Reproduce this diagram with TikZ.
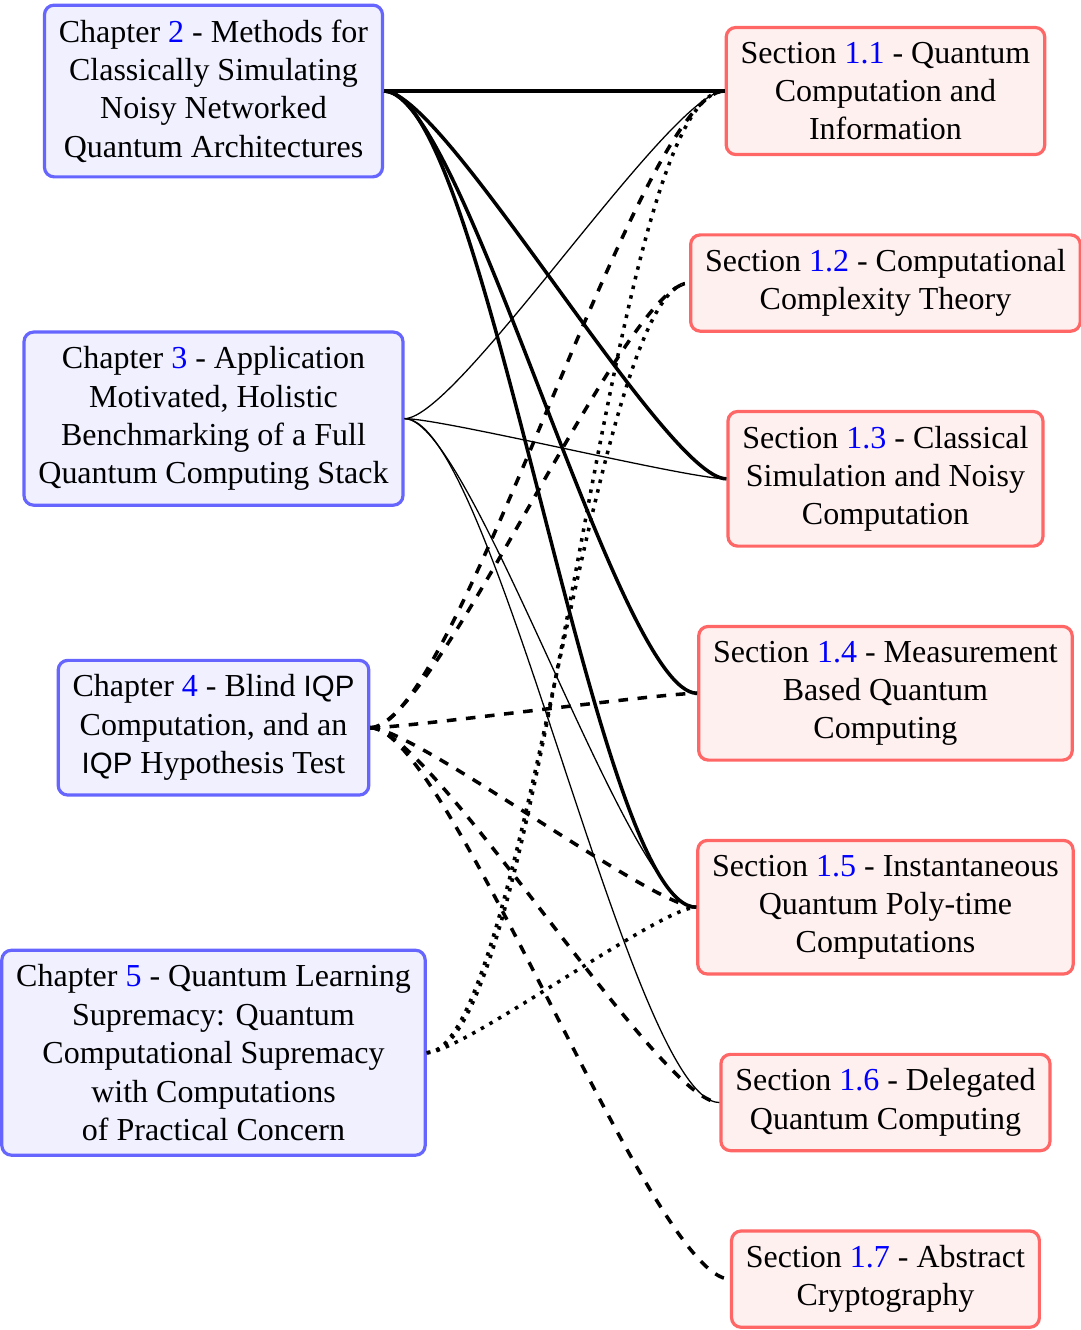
\documentclass[tikz,border=0pt]{standalone}
\usepackage{fontspec}
\setmainfont{Liberation Serif}
\setsansfont{Liberation Sans}[Scale=0.92]
\usetikzlibrary{positioning}
\newcommand{\refnum}[1]{\textcolor{blue}{#1}}

\begin{document}
\begin{tikzpicture}[
  chapterbox/.style={draw=blue!60, fill=blue!6, line width=1pt, rounded corners=3pt, align=center, inner sep=4.5pt},
  sectionbox/.style={draw=red!60, fill=red!6, line width=1pt, rounded corners=3pt, align=center, inner sep=4.5pt},
  hookcurve/.style={out=0, in=180, looseness=0.3},
  linktwo/.style={line width=1.1pt},
  linkthree/.style={thin},
  linkfour/.style={line width=1.1pt, dashed},
  linkfive/.style={line width=1.1pt, dotted}]
\useasboundingbox (-66.72pt,28.44pt) rectangle (271.1pt,-387.2pt);
% Chapters on the left
\node[chapterbox] (ch2) at (0,0) {Chapter \refnum{2} - Methods for\\Classically Simulating\\Noisy Networked\\Quantum Architectures};
\node[chapterbox, below=47.5pt of ch2] (ch3) {Chapter \refnum{3} - Application\\Motivated, Holistic\\Benchmarking of a Full\\Quantum Computing Stack};
\node[chapterbox, below=47.5pt of ch3] (ch4) {Chapter \refnum{4} - Blind \textsf{IQP}\\Computation, and an\\\textsf{IQP} Hypothesis Test};
\node[chapterbox, below=47.5pt of ch4] (ch5) {Chapter \refnum{5} - Quantum Learning\\Supremacy: Quantum\\Computational Supremacy\\with Computations\\of Practical Concern};

% Sections on the right
\node[sectionbox] (s11) at (210pt,0) {Section \refnum{1.1} - Quantum\\Computation and\\Information};
\node[sectionbox, below=24.1pt of s11] (s12) {Section \refnum{1.2} - Computational\\Complexity Theory};
\node[sectionbox, below=24.1pt of s12] (s13) {Section \refnum{1.3} - Classical\\Simulation and Noisy\\Computation};
\node[sectionbox, below=24.1pt of s13] (s14) {Section \refnum{1.4} - Measurement\\Based Quantum\\Computing};
\node[sectionbox, below=24.1pt of s14] (s15) {Section \refnum{1.5} - Instantaneous\\Quantum Poly-time\\Computations};
\node[sectionbox, below=24.1pt of s15] (s16) {Section \refnum{1.6} - Delegated\\Quantum Computing};
\node[sectionbox, below=24.1pt of s16] (s17) {Section \refnum{1.7} - Abstract\\Cryptography};

% Dependencies
\foreach \s in {s11,s13,s14,s15}
  \draw[linktwo] (ch2.east) to[hookcurve] (\s.west);
\foreach \s in {s11,s13,s15,s16}
  \draw[linkthree] (ch3.east) to[hookcurve] (\s.west);
\foreach \s in {s11,s12,s14,s15,s16,s17}
  \draw[linkfour] (ch4.east) to[hookcurve] (\s.west);
\foreach \s in {s11,s12,s15}
  \draw[linkfive] (ch5.east) to[hookcurve] (\s.west);
\end{tikzpicture}
\end{document}
